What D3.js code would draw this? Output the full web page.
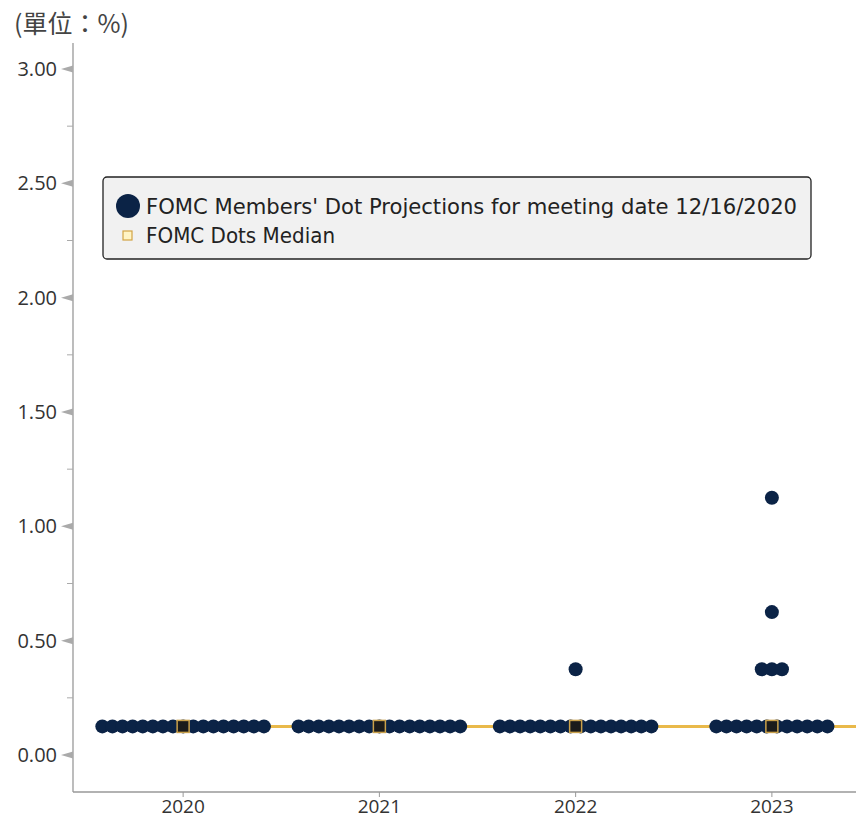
<!DOCTYPE html>
<html>
<head>
<meta charset="utf-8">
<script src="https://cdn.jsdelivr.net/npm/d3@7"></script>
<style>
  body { margin: 0; background: #fff; }
  svg { display: block; }
</style>
</head>
<body>
<div id="chart"></div>
<script>
// Categories and dot values (each dot is one FOMC member)
const years = ["2020", "2021", "2022", "2023"];
const dots2020 = [0.125, 0.125, 0.125, 0.125, 0.125, 0.125, 0.125, 0.125, 0.125, 0.125, 0.125, 0.125, 0.125, 0.125, 0.125, 0.125, 0.125];
const dots2021 = [0.125, 0.125, 0.125, 0.125, 0.125, 0.125, 0.125, 0.125, 0.125, 0.125, 0.125, 0.125, 0.125, 0.125, 0.125, 0.125, 0.125];
const dots2022 = [0.125, 0.125, 0.125, 0.125, 0.125, 0.125, 0.125, 0.125, 0.125, 0.125, 0.125, 0.125, 0.125, 0.125, 0.125, 0.125, 0.375];
const dots2023 = [0.125, 0.125, 0.125, 0.125, 0.125, 0.125, 0.125, 0.125, 0.125, 0.125, 0.125, 0.125, 0.375, 0.375, 0.375, 0.625, 1.125];
const medians = [0.125, 0.125, 0.125, 0.125];
const yTicks = [0, 0.5, 1, 1.5, 2, 2.5, 3];
const yMinorTicks = [0.25, 0.75, 1.25, 1.75, 2.25, 2.75];

const width = 856, height = 819;
const navy = "#0b2346";
const gold = "#e9b94a";

const svg = d3.select("#chart").append("svg")
    .attr("width", width)
    .attr("height", height)
    .style("font-family", "'Open Sans', 'Noto Sans', sans-serif");

const x = d3.scaleBand()
    .domain(years)
    .range([85, 870]);

const y = d3.scaleLinear()
    .domain([0, 3])
    .range([755, 69]);

const axisX = 73, axisBottom = 792;

// Title / unit
svg.append("text")
    .attr("x", 14)
    .attr("y", 33)
    .attr("fill", "#444")
    .attr("font-size", "25px")
    .style("font-family", "'Noto Sans CJK TC', 'Noto Sans', sans-serif")
    .text("(單位：%)");

// Axis lines
svg.append("line")
    .attr("x1", axisX).attr("x2", axisX)
    .attr("y1", 43).attr("y2", axisBottom)
    .attr("stroke", "#999").attr("stroke-width", 1.3);

svg.append("line")
    .attr("x1", axisX).attr("x2", width)
    .attr("y1", axisBottom).attr("y2", axisBottom)
    .attr("stroke", "#999").attr("stroke-width", 1.3);

// Y ticks: small left-pointing arrows for majors, short dashes for minors
const yAxis = svg.append("g");
yAxis.selectAll(".major")
    .data(yTicks)
    .join("path")
    .attr("class", "major")
    .attr("d", d => `M${axisX},${y(d) - 3.5}L${axisX - 12},${y(d)}L${axisX},${y(d) + 3.5}Z`)
    .attr("fill", "#aaa");

yAxis.selectAll(".minor")
    .data(yMinorTicks)
    .join("line")
    .attr("class", "minor")
    .attr("x1", axisX - 6).attr("x2", axisX)
    .attr("y1", d => y(d)).attr("y2", d => y(d))
    .attr("stroke", "#aaa");

yAxis.selectAll(".label")
    .data(yTicks)
    .join("text")
    .attr("class", "label")
    .attr("x", 57)
    .attr("y", d => y(d))
    .attr("dy", "0.35em")
    .attr("text-anchor", "end")
    .attr("font-size", "20px")
    .attr("fill", "#333")
    .text(d3.format(".2f"));

// X ticks and labels
const cx = d => x(d) + x.bandwidth() / 2;
const xAxis = svg.append("g");
xAxis.selectAll("line")
    .data(years)
    .join("line")
    .attr("x1", cx)
    .attr("x2", cx)
    .attr("y1", axisBottom).attr("y2", axisBottom + 5)
    .attr("stroke", "#999");

xAxis.selectAll("text")
    .data(years)
    .join("text")
    .attr("x", cx)
    .attr("y", 813)
    .attr("text-anchor", "middle")
    .attr("font-size", "19px")
    .attr("fill", "#333")
    .text(d => d);

// Median line
const medianPts = years.map((yr, i) => [cx(yr), y(medians[i])]);
medianPts.unshift([cx(years[0]) - 86, y(medians[0])]);
medianPts.push([width, y(medians[medians.length - 1])]);

svg.append("path")
    .datum(medianPts)
    .attr("d", d3.line())
    .attr("fill", "none")
    .attr("stroke", gold)
    .attr("stroke-width", 3);

// Dots: members with the same value are laid side by side
const dotSpacing = 10.1;
const allDots = [dots2020, dots2021, dots2022, dots2023];
const dotData = [];
allDots.forEach((vals, i) => {
    const groups = d3.group(vals, v => v);
    groups.forEach((g, v) => {
        g.forEach((_, j) => {
            dotData.push({ year: years[i], value: v, offset: (j - (g.length - 1) / 2) * dotSpacing });
        });
    });
});

svg.append("g")
    .selectAll("circle")
    .data(dotData)
    .join("circle")
    .attr("cx", d => cx(d.year) + d.offset)
    .attr("cy", d => y(d.value))
    .attr("r", 7)
    .attr("fill", navy);

// Median markers
svg.append("g")
    .selectAll("rect")
    .data(years)
    .join("rect")
    .attr("x", d => cx(d) - 6)
    .attr("y", (d, i) => y(medians[i]) - 6)
    .attr("width", 12)
    .attr("height", 12)
    .attr("fill", "#1b1b1b")
    .attr("stroke", "#c9a04a")
    .attr("stroke-width", 1.5);

// Legend
const legend = svg.append("g");
legend.append("rect")
    .attr("x", 103).attr("y", 177)
    .attr("width", 708).attr("height", 82)
    .attr("rx", 4)
    .attr("fill", "#f1f1f1")
    .attr("stroke", "#222")
    .attr("stroke-width", 1.3);

legend.append("circle")
    .attr("cx", 128).attr("cy", 206)
    .attr("r", 12)
    .attr("fill", navy);

legend.append("rect")
    .attr("x", 123).attr("y", 231)
    .attr("width", 9).attr("height", 9)
    .attr("fill", "#fff4c4")
    .attr("stroke", "#d2a445")
    .attr("stroke-width", 1.2);

legend.append("text")
    .attr("x", 146).attr("y", 214)
    .attr("font-size", "22px")
    .attr("fill", "#222")
    .attr("textLength", 651)
    .attr("lengthAdjust", "spacingAndGlyphs")
    .style("font-family", "'DejaVu Sans Condensed', 'DejaVu Sans', sans-serif")
    .text("FOMC Members' Dot Projections for meeting date 12/16/2020");

legend.append("text")
    .attr("x", 146).attr("y", 243)
    .attr("font-size", "22px")
    .attr("fill", "#222")
    .attr("textLength", 189)
    .attr("lengthAdjust", "spacingAndGlyphs")
    .style("font-family", "'DejaVu Sans Condensed', 'DejaVu Sans', sans-serif")
    .text("FOMC Dots Median");
</script>
</body>
</html>
